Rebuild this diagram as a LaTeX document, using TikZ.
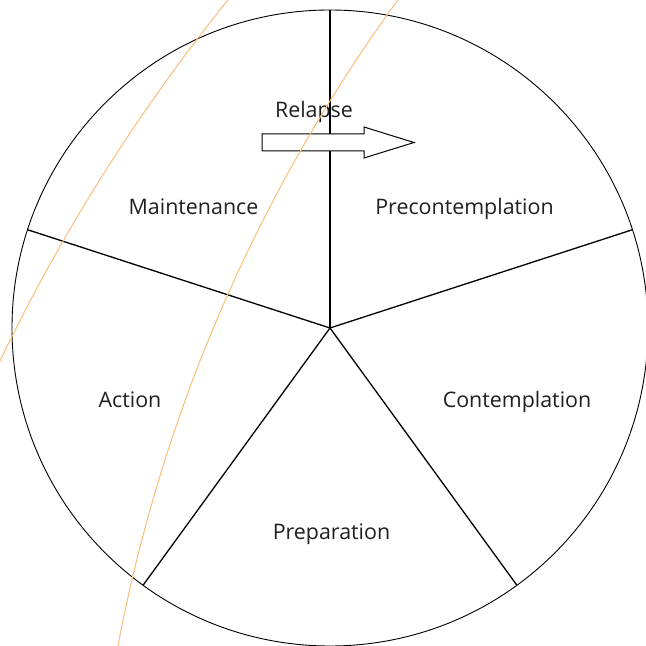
\documentclass[tikz,border=0pt]{standalone}
\usepackage{fontspec}
\setmainfont{Open Sans}
\usepackage{xcolor}
\definecolor{guide}{RGB}{250,190,120}

\begin{document}
\begin{tikzpicture}[
    x=1pt, y=1pt,
    ring/.style={line width=0.9pt, draw=black},
    spoke/.style={line width=1.3pt, draw=black},
    stage/.style={anchor=base, inner sep=0pt, text=black!88, font=\fontsize{21.4}{25}\selectfont},
    relapsebox/.style={line width=1pt, draw=black, fill=white},
    guideline/.style={line width=1pt, draw=guide}
]
   \useasboundingbox (0,0) rectangle (646,646);

   % Wheel
   \coordinate (c) at (330,318);
   \draw[ring] (c) circle[radius=318];
   \foreach \a/\n in {90/s1, 18/s2, -54/s3, -126/s4, 162/s5}
      \draw[spoke] (c) -- ++(\a:318) coordinate (\n);

   % Stages
   \node[stage] (pre)   at (464.5,431) {Precontemplation};
   \node[stage] (con)   at (517,238)   {Contemplation};
   \node[stage] (prep)  at (331.5,106) {Preparation};
   \node[stage] (act)   at (130,238)   {Action};
   \node[stage] (maint) at (193.5,431) {Maintenance};

   % Relapse arrow
   \node[stage] (rel) at (314,528) {Relapse};
   \draw[relapsebox] (262,512) -- (364,512) -- (364,519) -- (414,503.5)
        -- (364,488) -- (364,495) -- (262,495) -- cycle;

   % Guide arcs
   \begin{scope}
      \clip (0,0) rectangle (646,646);
      \draw[guideline] (1671.1,-515.7) circle[radius=1852.6];
      \draw[guideline] (1705.2,-303.8) circle[radius=1615.8];
   \end{scope}
\end{tikzpicture}
\end{document}
